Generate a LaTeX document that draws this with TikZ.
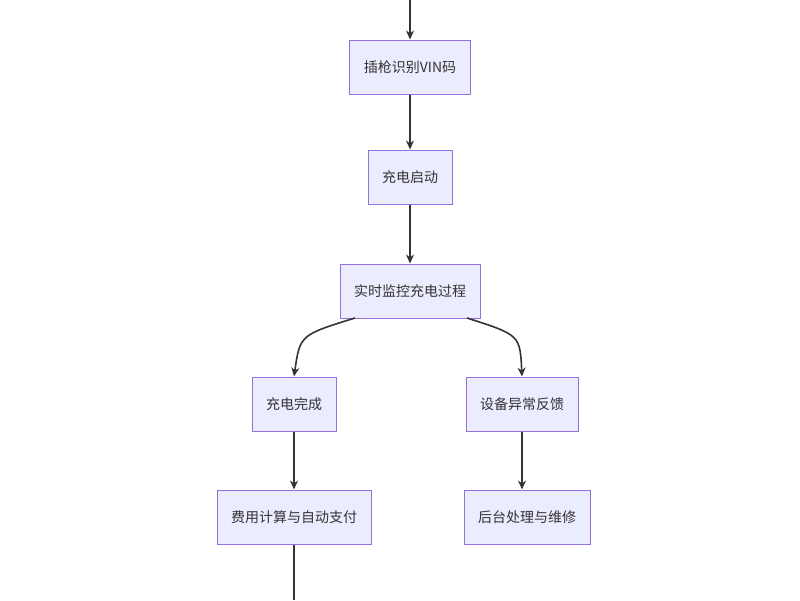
\documentclass[tikz,border=0pt]{standalone}
\usepackage{fontspec}
\setmainfont{Noto Sans CJK SC}
\usetikzlibrary{arrows.meta}
\definecolor{boxfill}{HTML}{ECECFF}
\definecolor{boxline}{HTML}{9370DB}
\definecolor{flowline}{HTML}{333333}
\tikzset{
	stage/.style={draw=boxline, fill=boxfill, line width=1pt, minimum height=54pt, inner xsep=14pt, font=\fontsize{14}{16}\selectfont, text=flowline},
	flow/.style={draw=flowline, line width=1.6pt, -{Stealth[length=9pt, width=8pt]}}
}
\begin{document}
\begin{tikzpicture}[x=1pt, y=-1pt]
	\useasboundingbox (0, 0) rectangle (800, 600);
	\node[stage] (vin) at (410, 67) {插枪识别VIN码};
	\node[stage] (start) at (410, 177) {充电启动};
	\node[stage] (watch) at (410, 291) {实时监控充电过程};
	\node[stage] (done) at (294, 404) {充电完成};
	\node[stage] (fault) at (522, 404) {设备异常反馈};
	\node[stage] (pay) at (294, 517) {费用计算与自动支付};
	\node[stage] (repair) at (527, 517) {后台处理与维修};
	\coordinate (top) at (410, 0);
	\coordinate (bottom) at (294, 600);
	\coordinate (wl) at (355, 318);
	\coordinate (wr) at (467, 318);
	\draw[flow] (top) -- (vin);
	\draw[flow] (vin) -- (start);
	\draw[flow] (start) -- (watch);
	\draw[flow] (wl) .. controls (300, 335) .. (done.north);
	\draw[flow] (wr) .. controls (520, 335) .. (fault.north);
	\draw[flow] (done) -- (pay);
	\draw[flow] (fault.south) -- (fault.south |- repair.north);
	\draw[flow, -] (pay) -- (bottom);
\end{tikzpicture}
\end{document}
